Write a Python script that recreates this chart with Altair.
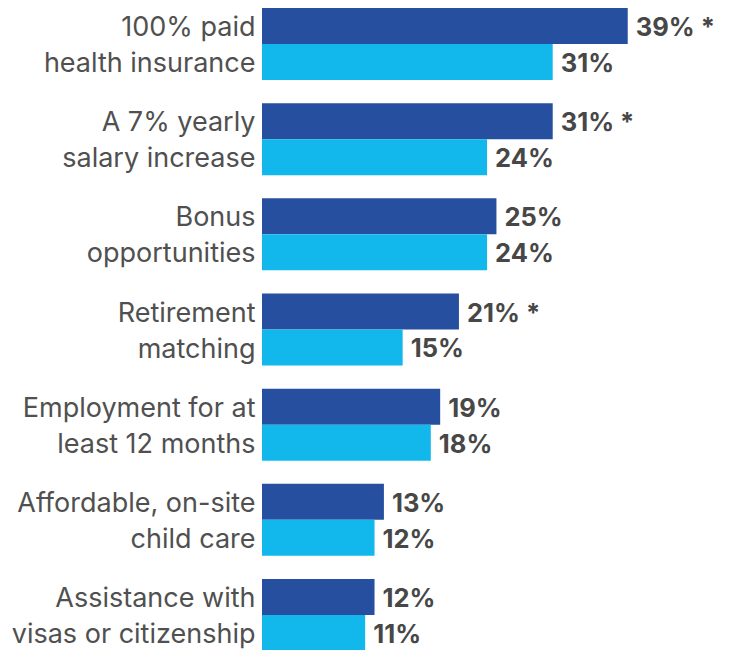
import altair as alt
import pandas as pd

categories = [
    "100% paid|health insurance",
    "A 7% yearly|salary increase",
    "Bonus|opportunities",
    "Retirement|matching",
    "Employment for at|least 12 months",
    "Affordable, on-site|child care",
    "Assistance with|visas or citizenship",
]
series_names = ["Series A", "Series B"]
values_a = [39, 31, 25, 21, 19, 13, 12]
values_b = [31, 24, 24, 15, 18, 12, 11]
significant_a = [True, True, False, True, False, False, False]

rows = []
for i, c in enumerate(categories):
    rows.append({"cat": c, "series": series_names[0], "value": values_a[i],
                 "label": f"{values_a[i]}%" + (" *" if significant_a[i] else "")})
    rows.append({"cat": c, "series": series_names[1], "value": values_b[i],
                 "label": f"{values_b[i]}%"})
df = pd.DataFrame(rows)

y_enc = alt.Y("cat:N", sort=categories,
              scale=alt.Scale(paddingInner=0.2435, paddingOuter=0),
              axis=alt.Axis(title=None, domain=False, ticks=False,
                            labelExpr="split(datum.label, '|')",
                            labelFont="Inter", labelFontSize=27,
                            labelColor="#505050", labelLineHeight=36,
                            labelOffset=-16,
                            labelPadding=7, labelLimit=400))
yoff = alt.YOffset("series:N", sort=series_names,
                   scale=alt.Scale(paddingInner=0, paddingOuter=0))
x_enc = alt.X("value:Q", scale=alt.Scale(domain=[0, 45], nice=False),
              axis=None)

bars = alt.Chart(df).mark_bar(cornerRadius=0).encode(
    x=x_enc, y=y_enc, yOffset=yoff,
    color=alt.Color("series:N", sort=series_names,
                    scale=alt.Scale(domain=series_names,
                                    range=["#264F9F", "#12B8EB"]),
                    legend=None),
)
texts = alt.Chart(df).mark_text(align="left", baseline="middle", dx=8, dy=2,
                                font="Inter", fontSize=25.5, fontWeight="bold",
                                color="#474747").encode(
    x=x_enc, y=y_enc, yOffset=yoff, text="label:N")

chart = (bars + texts).properties(
    width=422, height=643,
    autosize=alt.AutoSizeParams(type="none"),
    padding={"left": 254, "top": 0, "right": 39, "bottom": 0},
).configure_view(stroke=None)

chart.save("out.html", embed_options={"renderer": "svg", "actions": False})
